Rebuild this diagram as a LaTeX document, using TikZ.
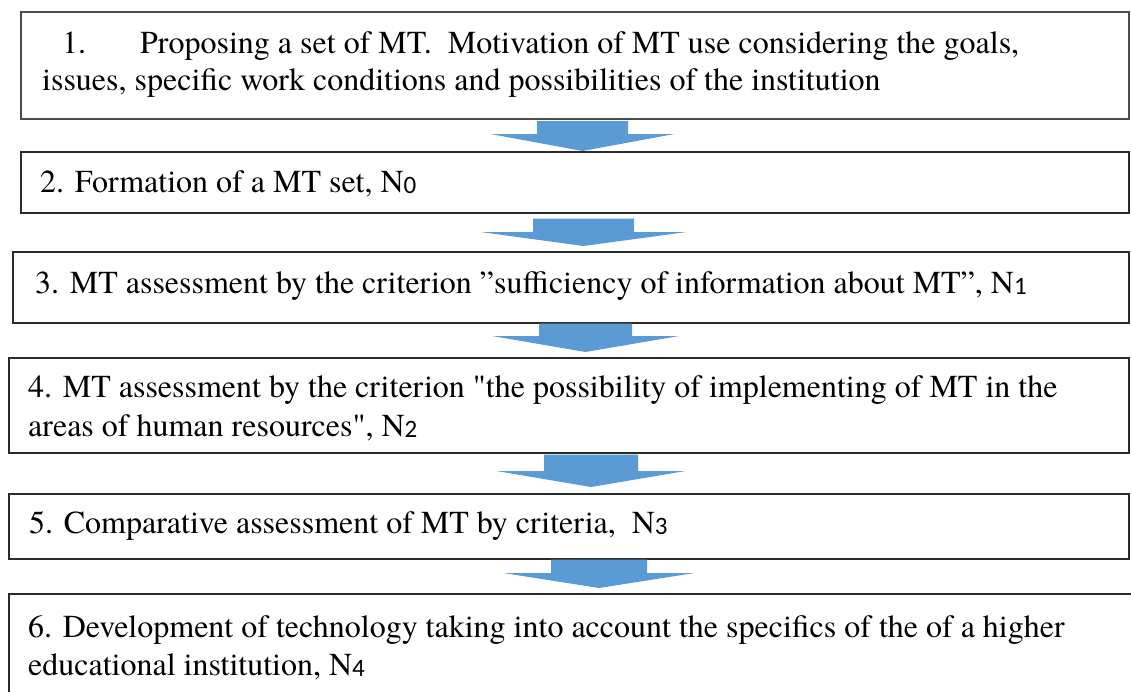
\documentclass[tikz,border=0pt]{standalone}
\usepackage{fontspec}
\IfFontExistsTF{texgyretermes-regular.otf}
  {\setmainfont{texgyretermes-regular.otf}}
  {\setmainfont{Liberation Serif}}
\newfontfamily\digitfont{Carlito}
\usetikzlibrary{calc}
\definecolor{stepblue}{HTML}{5B9BD5}
\definecolor{frame}{HTML}{2B2B2B}
% index digit of the set names N0 ... N4
\newcommand\Nsub[1]{N\raisebox{-1.5pt}{\digitfont\fontsize{25}{25}\selectfont #1}}
\tikzset{
  stepbox/.style={draw=frame, line width=1.6pt, fill=white, inner sep=0pt, anchor=north west},
  steptext/.style={anchor=base west, inner sep=0pt, font=\fontsize{32}{37}\selectfont},
  flowarrow/.style={fill=stepblue, draw=none},
}
% block arrow between two boxes:
% #1 upper box, #2 lower box, #3 centre x, #4 shaft half-width,
% #5 head half-width, #6 head length, #7 gap below #1, #8 gap above #2
\newcommand\blockarrow[8]{%
  \fill[flowarrow] let \p1=(#1.south), \p2=(#2.north) in
    ({#3-#4},\y1-#7pt) -- ({#3+#4},\y1-#7pt) -- ({#3+#4},\y2+#8pt+#6pt)
    -- ({#3+#5},\y2+#8pt+#6pt) -- (#3,\y2+#8pt) -- ({#3-#5},\y2+#8pt+#6pt)
    -- ({#3-#4},\y2+#8pt+#6pt) -- cycle;
}
\begin{document}
\begin{tikzpicture}[x=1pt, y=-1pt]
  \useasboundingbox (0,0) rectangle (1131,691);
  \clip (0,0) rectangle (1131,691);

  % step boxes
  \node[stepbox, draw=black!70, line width=2pt, minimum width=1108pt, minimum height=107pt] (b1) at (20,11) {};
  \node[stepbox, minimum width=1108pt, minimum height=61pt]  (b2) at (20,151) {};
  \node[stepbox, minimum width=1116pt, minimum height=71pt]  (b3) at (12,251) {};
  \node[stepbox, minimum width=1120pt, minimum height=95pt]  (b4) at (8,357) {};
  \node[stepbox, minimum width=1120pt, minimum height=65pt]  (b5) at (8,493) {};
  \node[stepbox, minimum width=1140pt, minimum height=140pt] (b6) at (8,593) {};

  % arrows between the steps
  \blockarrow{b1}{b2}{582.5}{45.5}{92}{17}{1}{0}
  \blockarrow{b2}{b3}{583.5}{50.5}{103}{14}{5}{5}
  \blockarrow{b3}{b4}{585.5}{46.5}{93.5}{16}{0}{5}
  \blockarrow{b4}{b5}{591}{47}{94.5}{16}{1}{6}
  \blockarrow{b5}{b6}{599}{48}{95.5}{15}{0}{5}

  % texts
  \node[steptext] (t1a) at (62,53) {1.};
  \node[steptext] (t1b) at (140,53) {Proposing a set of MT.\ \ Motivation of MT use considering the goals,};
  \node[steptext] (t1c) at (42,90) {issues, specific work conditions and possibilities of the institution};
  \node[steptext] (t2) at (40,192) {2. Formation of a MT set, \Nsub{0}};
  \node[steptext] (t3) at (35,293) {3. MT assessment by the criterion ”sufficiency of information about MT”, \Nsub{1}};
  \node[steptext] (t4a) at (28,397) {4. MT assessment by the criterion \textquotedbl the possibility of implementing of MT in the};
  \node[steptext] (t4b) at (28,436) {areas of human resources\textquotedbl, \Nsub{2}};
  \node[steptext] (t5) at (29,533) {5. Comparative assessment of MT by criteria,\ \ \Nsub{3}};
  \node[steptext] (t6a) at (28,637) {6. Development of technology taking into account the specifics of the of a higher};
  \node[steptext] (t6b) at (28,675) {educational institution, \Nsub{4}};
\end{tikzpicture}
\end{document}
